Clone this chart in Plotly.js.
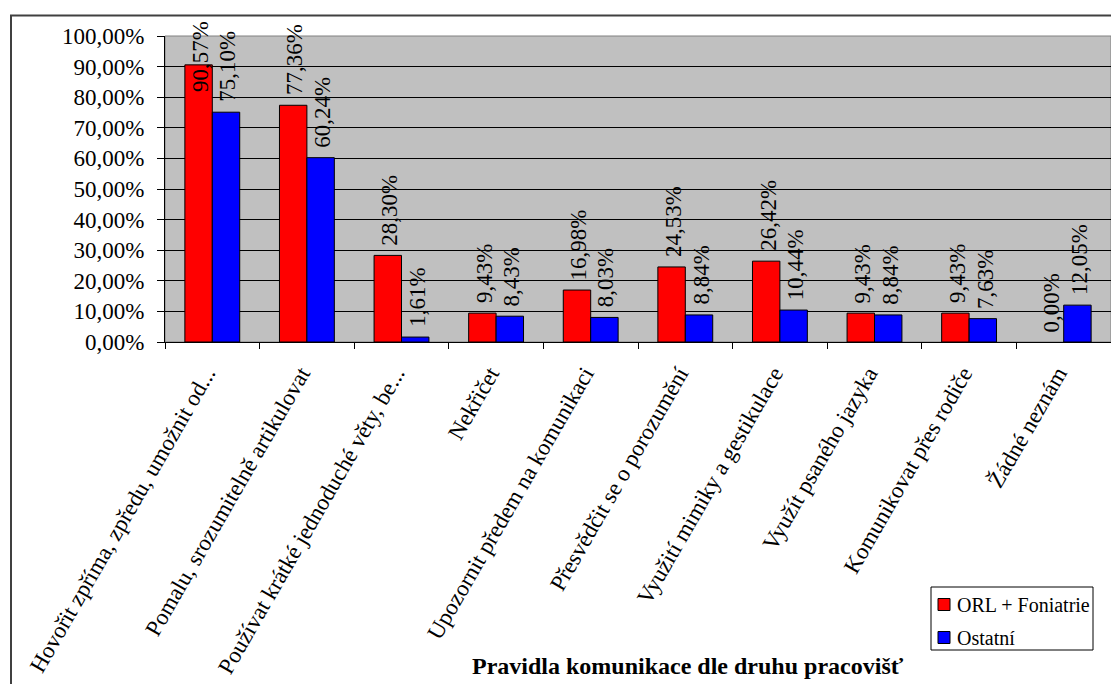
<!DOCTYPE html>
<html>
<head>
<meta charset="utf-8">
<script src="https://cdn.plot.ly/plotly-3.0.1.min.js"></script>
<style>
  html, body { margin: 0; padding: 0; background: #ffffff; }
  #chart { width: 1111px; height: 684px; }
</style>
</head>
<body>
<div id="chart"></div>
<script>
// Communication rules by type of workplace
const categories = [
  "Hovořit zpříma, zpředu, umožnit od...",
  "Pomalu, srozumitelně artikulovat",
  "Používat krátké jednoduché věty, be...",
  "Nekřičet",
  "Upozornit předem na komunikaci",
  "Přesvědčit se o porozumění",
  "Využití mimiky a gestikulace",
  "Využít psaného jazyka",
  "Komunikovat přes rodiče",
  "Žádné neznám"
];
const orlFoniatrie = [90.57, 77.36, 28.30, 9.43, 16.98, 24.53, 26.42, 9.43, 9.43, 0.00];
const ostatni      = [75.10, 60.24, 1.61, 8.43, 8.03, 8.84, 10.44, 8.84, 7.63, 12.05];
const seriesNames  = ["ORL + Foniatrie", "Ostatní"];
const seriesColors = ["#ff0000", "#0000ff"];
const yTicks = [0, 10, 20, 30, 40, 50, 60, 70, 80, 90, 100];
const axisTitle = "Pravidla komunikace dle druhu pracovišť";

// page geometry (pixels)
const W = 1111, H = 684;
const M = { l: 165, r: 0, t: 36, b: 342 };
const plotW = W - M.l - M.r, plotH = H - M.t - M.b;
const px2x = p => (p - M.l) / plotW;
const px2y = p => (H - M.b - p) / plotH;

const FONT = "Liberation Serif, DejaVu Serif, serif";
const fmt = v => v.toFixed(2).replace('.', ',') + '%';

const traces = [orlFoniatrie, ostatni].map((vals, i) => ({
  type: 'bar',
  name: seriesNames[i],
  x: categories,
  y: vals,
  marker: {
    color: seriesColors[i],
    line: { color: '#000000', width: vals.map(v => (v > 0 ? 1 : 0)) }
  },
  showlegend: false,
  hoverinfo: 'skip'
}));

// value labels, rotated, sitting just above each bar (kept inside the chart area)
const annotations = [];
const gapUnits = 8 / plotH * 100;
const capUnits = (H - M.b - 94) / plotH * 100;
const halfBar = plotW / categories.length * (1 - 0.42) / 4;
[orlFoniatrie, ostatni].forEach((vals, s) => {
  vals.forEach((v, k) => {
    annotations.push({
      x: categories[k], xref: 'x',
      y: Math.min(v + gapUnits, capUnits), yref: 'y',
      xshift: (s === 0 ? -halfBar : halfBar) + 2,
      text: fmt(v), textangle: -90,
      showarrow: false, xanchor: 'center', yanchor: 'bottom',
      font: { family: FONT, size: 23, color: '#000000' }
    });
  });
});

// axis title under the labels
annotations.push({
  x: px2x(688), xref: 'paper', y: px2y(666), yref: 'paper',
  text: '<b>' + axisTitle + '</b>', showarrow: false,
  xanchor: 'center', yanchor: 'middle',
  font: { family: FONT, size: 24, color: '#000000' }
});

// legend entries
const legendRows = [604.5, 637.5];
seriesNames.forEach((n, i) => {
  annotations.push({
    x: px2x(955), xref: 'paper', y: px2y(legendRows[i]), yref: 'paper',
    text: n, showarrow: false, xanchor: 'left', yanchor: 'middle',
    font: { family: FONT, size: 20, color: '#000000' }
  });
});

const shapes = [
  // chart area frame
  { type: 'rect', xref: 'paper', yref: 'paper', layer: 'below',
    x0: px2x(11), x1: px2x(1130), y0: px2y(700), y1: px2y(15.5),
    line: { color: '#404040', width: 2 }, fillcolor: 'rgba(0,0,0,0)' },
  // plot area frame
  { type: 'rect', xref: 'paper', yref: 'paper', layer: 'below',
    x0: 0, x1: 1, y0: 0, y1: 1,
    line: { color: '#808080', width: 1 }, fillcolor: 'rgba(0,0,0,0)' },
  // legend box
  { type: 'rect', xref: 'paper', yref: 'paper',
    x0: px2x(931), x1: px2x(1093), y0: px2y(650), y1: px2y(587),
    line: { color: '#000000', width: 1 }, fillcolor: '#ffffff' }
];
legendRows.forEach((r, i) => {
  shapes.push({ type: 'rect', xref: 'paper', yref: 'paper',
    x0: px2x(938), x1: px2x(950), y0: px2y(r + 6), y1: px2y(r - 6),
    line: { color: '#000000', width: 1 }, fillcolor: seriesColors[i] });
});

const layout = {
  width: W, height: H,
  margin: M,
  paper_bgcolor: '#ffffff',
  plot_bgcolor: '#c0c0c0',
  font: { family: FONT, size: 23, color: '#000000' },
  barmode: 'group',
  bargap: 0.42,
  bargroupgap: 0,
  showlegend: false,
  separators: ', ',
  xaxis: {
    type: 'category',
    showline: true, linecolor: '#000000', linewidth: 1,
    ticks: 'outside', tickson: 'boundaries', ticklen: 6, tickcolor: '#000000',
    tickangle: -60,
    ticklabelstandoff: 8,
    ticklabelshift: -6,
    tickfont: { family: FONT, size: 23, color: '#000000' },
    showgrid: false, automargin: false
  },
  yaxis: {
    range: [0, 100],
    tickvals: yTicks,
    ticktext: yTicks.map(fmt),
    showline: true, linecolor: '#000000', linewidth: 1,
    ticks: 'outside', ticklen: 7, tickcolor: '#000000',
    ticklabelstandoff: 8,
    showgrid: true, gridcolor: '#000000', gridwidth: 1,
    zeroline: false,
    tickfont: { family: FONT, size: 23, color: '#000000' },
    automargin: false
  },
  annotations: annotations,
  shapes: shapes
};

Plotly.newPlot('chart', traces, layout, { displayModeBar: false, staticPlot: true });
</script>
</body>
</html>
